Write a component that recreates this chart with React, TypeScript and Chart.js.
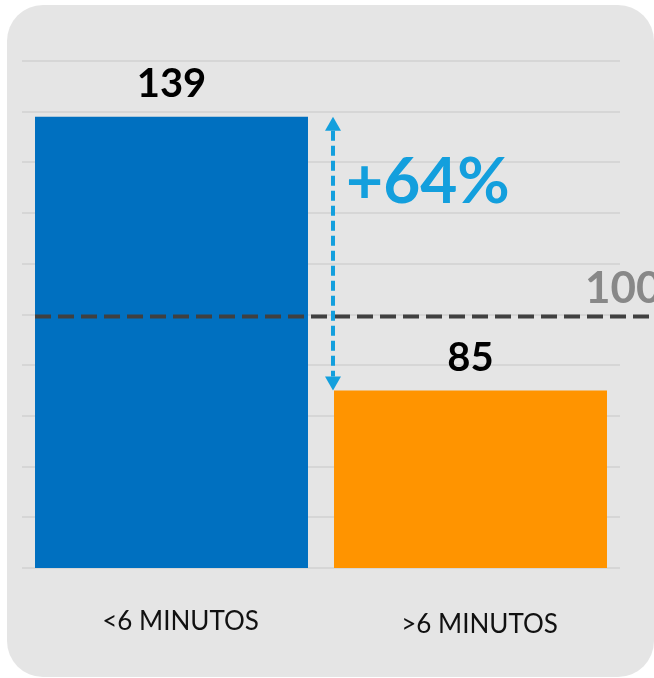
import { useEffect, useRef } from 'react';
import { Chart, registerables } from 'chart.js';

Chart.register(...registerables);

const categories = ['<6 MINUTOS', '>6 MINUTOS'];
const values = [139, 85];
const barColors = ['#0070C0', '#FF9400'];
const referenceValue = 100;
const yMin = 50;
const yMax = 150;
const yStep = 10;

const FONT = 'Lato, "Open Sans", "DejaVu Sans", sans-serif';

export default function App() {
  const ref = useRef<HTMLCanvasElement>(null);

  useEffect(() => {
    const canvas = ref.current;
    if (!canvas) return;

    const cardPlugin = {
      id: 'card',
      beforeDraw(chart: any) {
        const { ctx, width, height } = chart;
        ctx.save();
        ctx.fillStyle = '#ffffff';
        ctx.fillRect(0, 0, width, height);
        ctx.fillStyle = '#e5e5e5';
        ctx.beginPath();
        ctx.roundRect(7, 5, width - 7, height - 6, 36);
        ctx.fill();
        ctx.restore();
      },
    };

    const overlayPlugin = {
      id: 'overlay',
      afterDatasetsDraw(chart: any) {
        const { ctx, chartArea } = chart;
        const y = chart.scales.y;
        const x = chart.scales.x;
        const bars = chart.getDatasetMeta(0).data;
        ctx.save();

        // reference dashed line
        const refY = y.getPixelForValue(referenceValue) + 2;
        ctx.strokeStyle = '#404040';
        ctx.lineWidth = 4;
        ctx.setLineDash([16, 7]);
        ctx.beginPath();
        ctx.moveTo(bars[0].x - bars[0].width / 2, refY);
        ctx.lineTo(chart.width, refY);
        ctx.stroke();
        ctx.setLineDash([]);

        // reference label
        ctx.fillStyle = '#888888';
        ctx.font = `bold 44px ${FONT}`;
        ctx.textAlign = 'left';
        ctx.textBaseline = 'alphabetic';
        ctx.fillText(String(referenceValue), chartArea.right - 35, refY - 14);

        // value labels
        ctx.fillStyle = '#000000';
        ctx.font = `bold 40px ${FONT}`;
        ctx.textAlign = 'center';
        bars.forEach((b: any, i: number) => {
          ctx.fillText(String(values[i]), b.x, b.y - 20);
        });

        // arrow between bar tops
        const ax = bars[1].x - bars[1].width / 2 - 1;
        const yTop = bars[0].y;
        const yBot = bars[1].y;
        const arrowColor = '#139FDD';
        const head = 14;
        ctx.strokeStyle = arrowColor;
        ctx.lineWidth = 4;
        ctx.setLineDash([10, 5]);
        ctx.beginPath();
        ctx.moveTo(ax, yTop + head);
        ctx.lineTo(ax, yBot - head);
        ctx.stroke();
        ctx.setLineDash([]);
        ctx.fillStyle = arrowColor;
        ctx.beginPath();
        ctx.moveTo(ax, yTop);
        ctx.lineTo(ax - 8, yTop + head);
        ctx.lineTo(ax + 8, yTop + head);
        ctx.closePath();
        ctx.fill();
        ctx.beginPath();
        ctx.moveTo(ax, yBot);
        ctx.lineTo(ax - 8, yBot - head);
        ctx.lineTo(ax + 8, yBot - head);
        ctx.closePath();
        ctx.fill();

        // percent label
        const pct = Math.round((values[0] / values[1] - 1) * 100);
        ctx.font = `bold 64px ${FONT}`;
        ctx.textAlign = 'left';
        ctx.fillText(`+${pct}%`, ax + 13, y.getPixelForValue(122));

        // category labels
        ctx.fillStyle = '#111111';
        ctx.font = `26px ${FONT}`;
        ctx.textAlign = 'center';
        categories.forEach((c, i) => {
          ctx.fillText(c, x.getPixelForValue(i) + 9, chartArea.bottom + 62 + i * 3);
        });

        ctx.restore();
      },
    };

    const chart = new Chart(canvas, {
      type: 'bar',
      data: {
        labels: categories,
        datasets: [
          {
            data: values,
            backgroundColor: barColors,
            borderWidth: 0,
            barPercentage: 0.913,
            categoryPercentage: 1,
          },
        ],
      },
      options: {
        animation: false,
        responsive: false,
        maintainAspectRatio: false,
        layout: { padding: { left: 22, right: 34, top: 61, bottom: 110 } },
        plugins: {
          legend: { display: false },
          tooltip: { enabled: false },
          title: { display: false },
        },
        scales: {
          x: {
            display: false,
          },
          y: {
            min: yMin,
            max: yMax,
            ticks: { display: false, stepSize: yStep },
            border: { display: false },
            grid: { color: '#d6d6d6', lineWidth: 2, drawTicks: false },
          },
        },
      },
      plugins: [cardPlugin, overlayPlugin],
    });

    return () => chart.destroy();
  }, []);

  return (
    <div style={{ position: 'fixed', left: 0, top: 0, width: 654, height: 678 }}>
      <canvas ref={ref} width={654} height={678} />
    </div>
  );
}
